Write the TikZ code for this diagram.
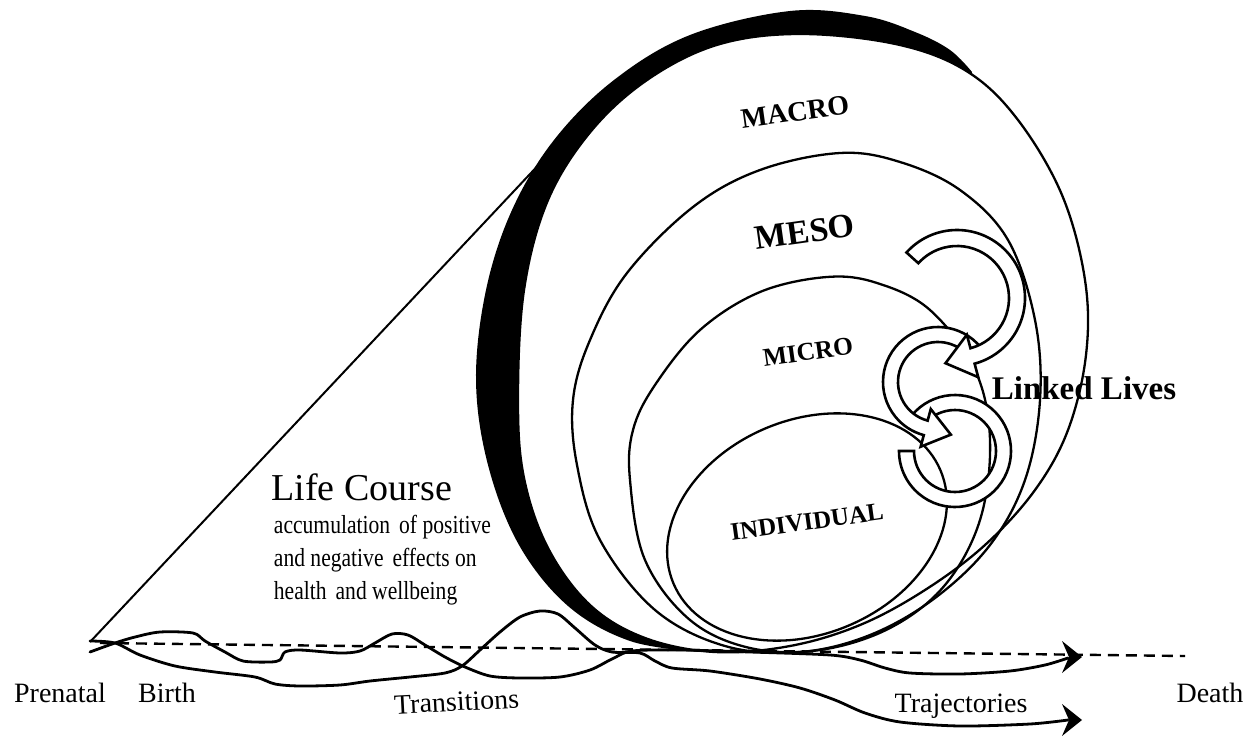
\documentclass[tikz,border=0pt]{standalone}
\usepackage{fontspec}
\setmainfont{Liberation Serif}
\usetikzlibrary{calc}
\begin{document}
\begin{tikzpicture}[x=1pt,y=1pt,yscale=-1,
  ln/.style={line width=2.3pt, line join=round},
  band/.style={draw=black, fill=white, line width=2.6pt, line join=miter},
  traj/.style={line width=2.8pt, line join=round, line cap=round},
  lvl/.style={font=\bfseries\fontsize{#1}{#1}\selectfont, rotate=8},
  lab/.style={font=\fontsize{28}{28}\selectfont, anchor=base},
  body/.style={font=\fontsize{26}{26}\selectfont, anchor=base west, xscale=0.83},
  tip/.style={fill=black}]
\path[use as bounding box] (0,0) rectangle (1255,744);

% cone line
\coordinate (pn) at (90,642);
\coordinate (ct) at (546,157);
\draw[line width=2pt] (pn) -- (ct);

% black back edge of the macro disk
\fill[black] plot[smooth, tension=0.6] coordinates {(700,652) (630,641) (568,606) (519,545) (488,465) (476,380) (486,290) (512,210) (554,140) (614,80) (690,35) (790,11) (865,16) (915,32) (950,50) (972,72)} -- (900,400) -- cycle;

% MACRO front
\draw[ln, fill=white] plot[smooth cycle, tension=0.6] coordinates {(518,400) (524,478) (548,548) (590,605) (645,638) (715,652) (790,646) (860,625) (925,590) (985,545) (1035,490) (1068,430) (1086,355) (1085,280) (1062,195) (1018,120) (968,72) (900,45) (803,34) (720,44) (650,78) (592,130) (548,200) (524,290)};
% MESO
\draw[ln] plot[smooth cycle, tension=0.6] coordinates {(573,400) (577,465) (600,540) (655,610) (725,646) (800,652) (870,635) (935,598) (990,545) (1025,480) (1040,400) (1035,320) (1008,240) (960,190) (900,162) (840,153) (760,170) (693,207) (627,273) (590,340)};
% MICRO
\draw[ln] plot[smooth cycle, tension=0.6] coordinates {(630,480) (645,560) (690,620) (750,648) (820,650) (890,628) (945,585) (980,520) (990,440) (975,370) (930,310) (877,283) (827,277) (760,292) (700,330) (655,385) (633,430)};
% INDIVIDUAL
\draw[ln] (807,527) ellipse[x radius=145, y radius=107, rotate=-23];

\node[lvl=28] (macro) at (795,112) {MACRO};
\node[lvl=34] (meso) at (805,232) {MESO};
\node[lvl=25.5] (micro) at (808,352) {MICRO};
\node[lvl=25] (indiv) at (807,522) {INDIVIDUAL};

% linked lives arrows
\coordinate (c1) at (957,298);
\coordinate (c2) at (938,382);
\coordinate (c3) at (955,451);
\draw[band] ($(c3)+(-140:56)$) arc[start angle=-140, end angle=180, radius=56] -- ($(c3)+(180:41)$) arc[start angle=180, end angle=-140, radius=41] -- cycle;
\draw[band] ($(c2)+(-39:55)$) arc[start angle=-39, end angle=-255, radius=55] -- ($(c2)+(105:67)$) -- ($(c2)+(105:47.5)+(15:26)$) -- ($(c2)+(105:28)$) -- ($(c2)+(105:40)$) arc[start angle=-255, end angle=-39, radius=40] -- cycle;
\draw[band] ($(c1)+(222:68)$) arc[start angle=222, end angle=435, radius=68] -- ($(c1)+(75:82)$) -- ($(c1)+(75:60)+(165:28)$) -- ($(c1)+(75:38)$) -- ($(c1)+(75:52)$) arc[start angle=435, end angle=222, radius=52] -- cycle;
\node[font=\bfseries\fontsize{33}{33}\selectfont] (ll) at (1084,388) {Linked Lives};

% trajectories
\draw[traj] plot[smooth, tension=0.5] coordinates {(90,652) (115,643) (135,637) (160,632) (193,633) (205,641) (225,652) (243,661) (270,662) (280,660) (285,652) (300,650) (340,653) (360,651) (375,643) (392,634) (408,635) (425,645) (445,657) (465,667) (490,676) (520,678) (560,677) (590,670) (612,659) (632,651) (680,650) (750,652) (830,655) (860,660) (885,668) (910,673) (960,674) (1010,671) (1045,665) (1068,658)};
\draw[traj] plot[smooth, tension=0.5] coordinates {(90,641) (115,643) (140,655) (175,666) (215,672) (255,677) (275,684) (300,686) (340,685) (370,681) (410,677) (445,673) (462,666) (480,650) (500,632) (520,617) (540,611) (558,614) (575,628) (595,645) (612,652) (640,653) (655,661) (672,668) (710,671) (760,679) (800,688) (835,700) (865,713) (900,722) (960,726) (1030,724) (1068,720)};
\draw[line width=2.4pt, dash pattern=on 11pt off 7pt] (100,643) -- (1185,656);
\coordinate (a1) at (1082,657);
\coordinate (a2) at (1082,720);
\fill[tip] (a1) -- ++(-20,-16) -- ++(7,16) -- ++(-7,16) -- cycle;
\fill[tip] (a2) -- ++(-20,-16) -- ++(7,16) -- ++(-7,16) -- cycle;

% labels
\node[lab] (pre) at (60,702) {Prenatal};
\node[lab] (birth) at (167,702) {Birth};
\node[lab, rotate=3] (trans) at (457,711) {Transitions};
\node[lab] (traj) at (961,712) {Trajectories};
\node[lab] (death) at (1210,702) {Death};

\node[font=\fontsize{38}{38}\selectfont, anchor=base west] (lc) at (268,500) {Life Course};
\node[body] (b1) at (271,533) {accumulation\, of positive};
\node[body] (b2) at (271,566) {and negative\, effects on};
\node[body] (b3) at (271,599) {health\, and wellbeing};
\end{tikzpicture}
\end{document}
